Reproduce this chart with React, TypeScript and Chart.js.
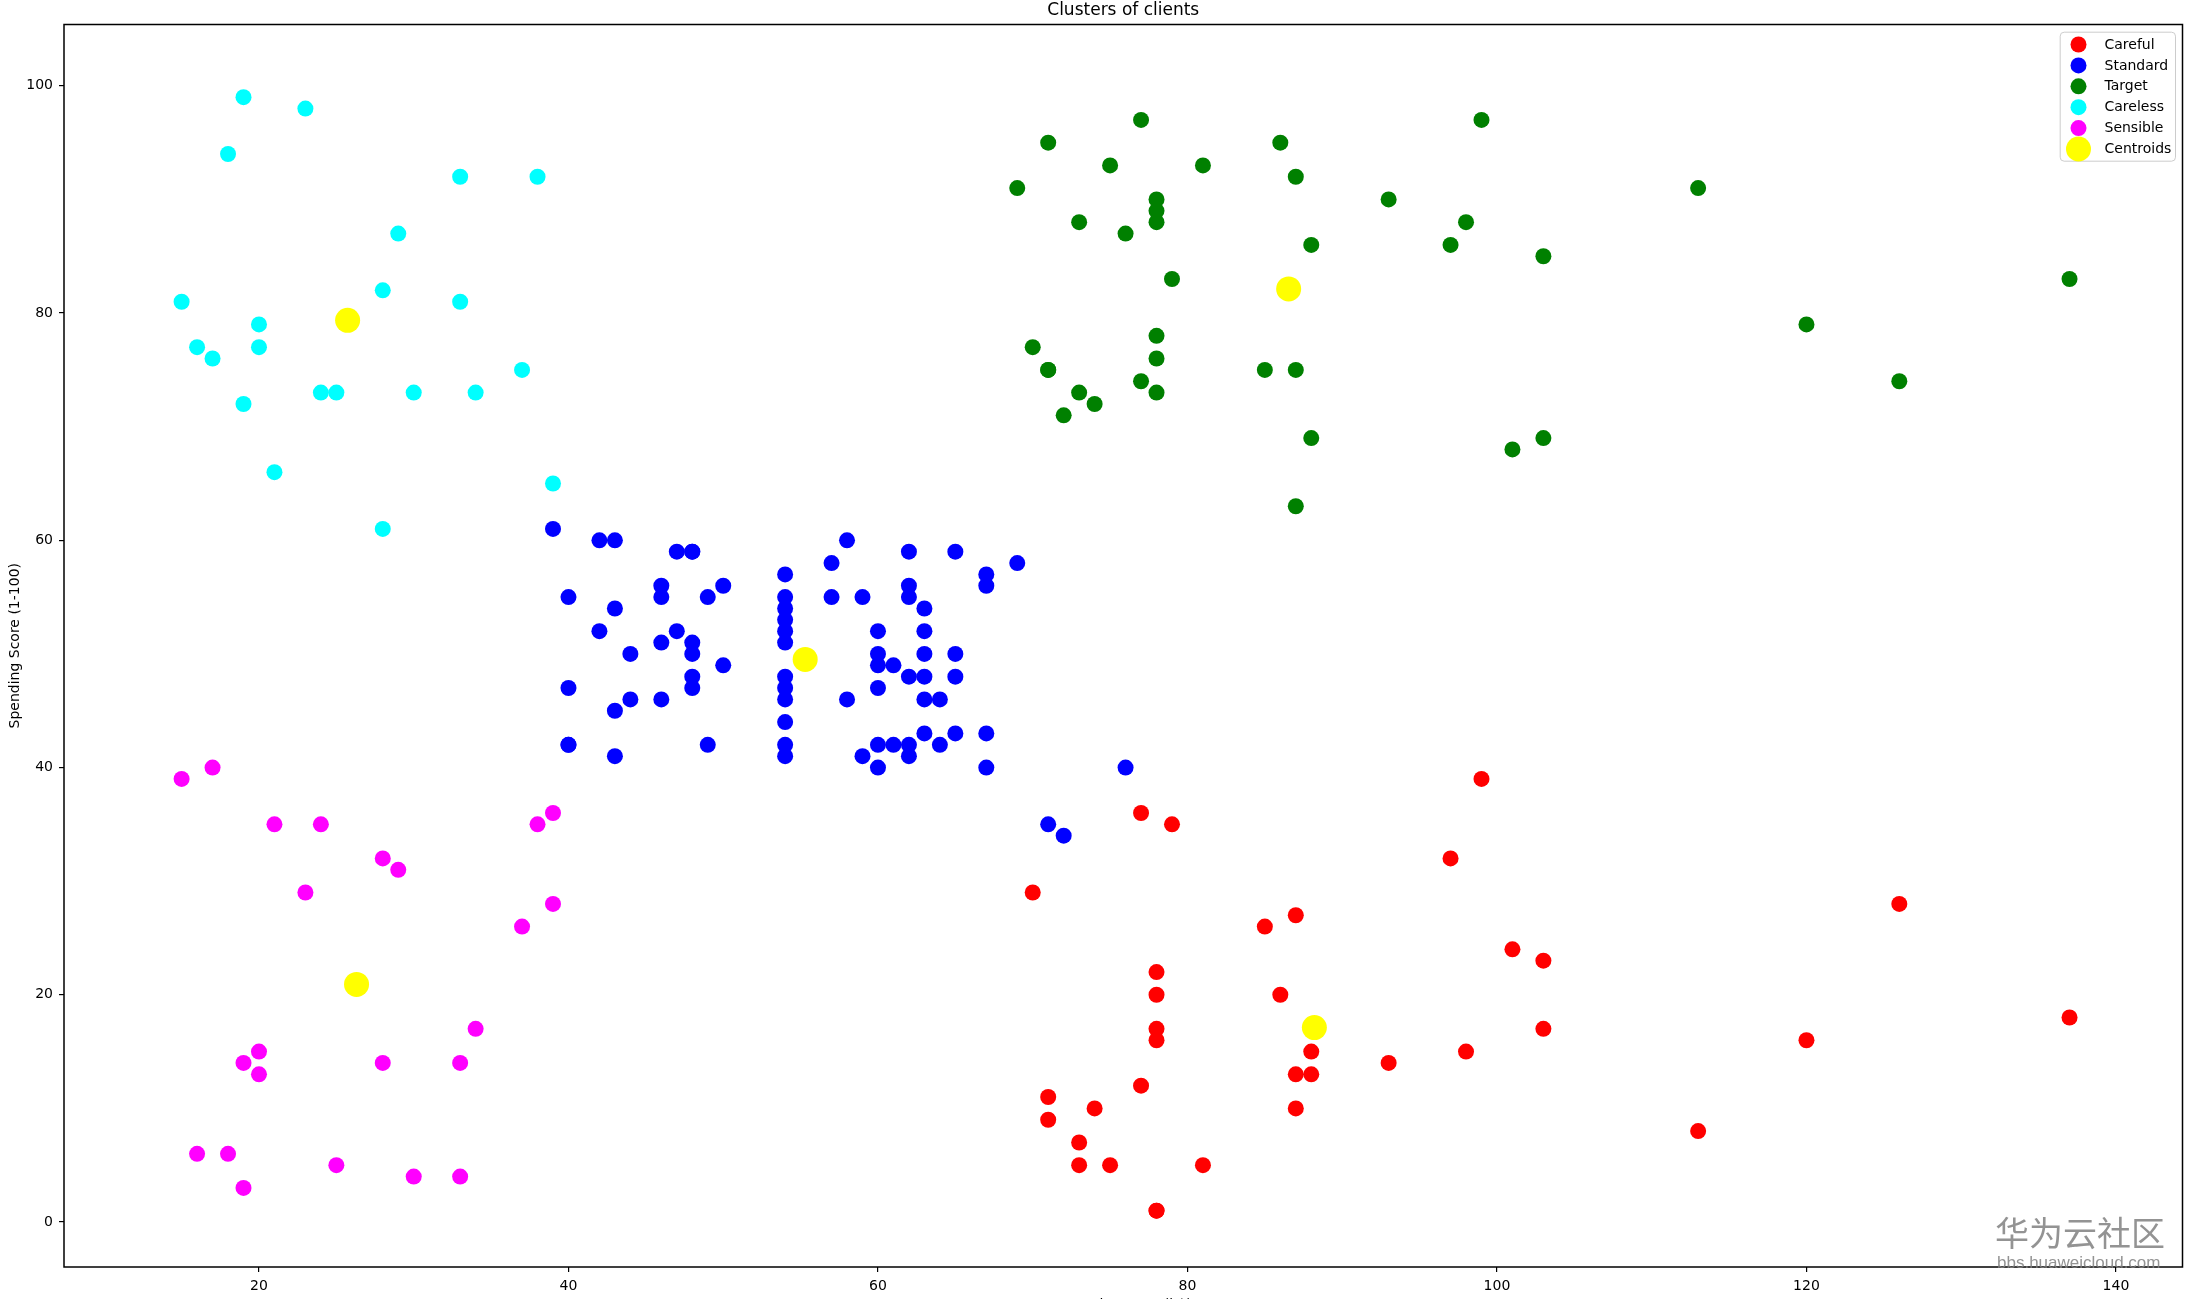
import React, { useEffect, useRef } from 'react';
import { Chart, registerables } from 'chart.js';

Chart.register(...registerables);

const FONT = "'DejaVu Sans', sans-serif";

// ---- Data (Annual Income k$, Spending Score 1-100) ----
const carefulIncome = [70, 71, 71, 73, 73, 74, 75, 77, 77, 78, 78, 78, 78, 78, 78, 79, 81, 85, 86, 87, 87, 87, 88, 88, 93, 97, 98, 99, 101, 103, 103, 113, 120, 126, 137];
const carefulScore = [29, 11, 9, 5, 7, 10, 5, 12, 36, 22, 17, 20, 16, 1, 1, 35, 5, 26, 20, 27, 13, 10, 13, 15, 14, 32, 15, 39, 24, 17, 23, 8, 16, 28, 18];

const standardIncome = [39, 40, 40, 40, 40, 42, 42, 43, 43, 43, 43, 44, 44, 46, 46, 46, 46, 47, 47, 48, 48, 48, 48, 48, 48, 49, 49, 50, 50, 54, 54, 54, 54, 54, 54, 54, 54, 54, 54, 54, 54, 57, 57, 58, 58, 59, 59, 60, 60, 60, 60, 60, 60, 61, 61, 62, 62, 62, 62, 62, 62, 63, 63, 63, 63, 63, 63, 64, 64, 65, 65, 65, 65, 67, 67, 67, 67, 69, 71, 72, 76];
const standardScore = [61, 55, 47, 42, 42, 52, 60, 54, 60, 45, 41, 50, 46, 51, 46, 56, 55, 52, 59, 51, 59, 50, 48, 59, 47, 55, 42, 49, 56, 47, 54, 53, 48, 52, 42, 51, 55, 41, 44, 57, 46, 58, 55, 60, 46, 55, 41, 49, 40, 42, 52, 47, 50, 42, 49, 41, 48, 59, 55, 56, 42, 50, 46, 43, 48, 52, 54, 42, 46, 48, 50, 43, 59, 43, 57, 56, 40, 58, 35, 34, 40];

const targetIncome = [69, 70, 71, 71, 71, 72, 73, 73, 74, 75, 76, 77, 77, 78, 78, 78, 78, 78, 78, 79, 81, 85, 86, 87, 87, 87, 88, 88, 93, 97, 98, 99, 101, 103, 103, 113, 120, 126, 137];
const targetScore = [91, 77, 95, 75, 75, 71, 88, 73, 72, 93, 87, 97, 74, 90, 88, 76, 89, 78, 73, 83, 93, 75, 95, 63, 75, 92, 86, 69, 90, 86, 88, 97, 68, 85, 69, 91, 79, 74, 83];

const carelessIncome = [15, 16, 17, 18, 19, 19, 20, 20, 21, 23, 24, 25, 28, 28, 29, 30, 33, 33, 34, 37, 38, 39];
const carelessScore = [81, 77, 76, 94, 72, 99, 77, 79, 66, 98, 73, 73, 82, 61, 87, 73, 92, 81, 73, 75, 92, 65];

const sensibleIncome = [15, 16, 17, 18, 19, 19, 20, 20, 21, 23, 24, 25, 28, 28, 29, 30, 33, 33, 34, 37, 38, 39, 39];
const sensibleScore = [39, 6, 40, 6, 3, 14, 15, 13, 35, 29, 35, 5, 14, 32, 31, 4, 4, 14, 17, 26, 35, 36, 28];

const centroidIncome = [88.2, 55.2963, 86.5385, 25.7273, 26.3043];
const centroidScore = [17.1143, 49.5185, 82.1282, 79.3636, 20.913];

const seriesLabels = ['Careful', 'Standard', 'Target', 'Careless', 'Sensible', 'Centroids'];
const seriesColors = ['#ff0000', '#0000ff', '#008000', '#00ffff', '#ff00ff', '#ffff00'];

const xTickValues = [20, 40, 60, 80, 100, 120, 140];
const yTickValues = [0, 20, 40, 60, 80, 100];

const chartTitle = 'Clusters of clients';
const xAxisTitle = 'Annual Income (k$)';
const yAxisTitle = 'Spending Score (1-100)';
const watermarkMain = '华为云社区';
const watermarkSub = 'bbs.huaweicloud.com';

const toPoints = (xs: number[], ys: number[]) => xs.map((x, i) => ({ x, y: ys[i] }));

const framePlugin = {
  id: 'mplFrame',
  afterDraw(chart: any) {
    const { ctx, chartArea: ca } = chart;
    ctx.save();
    ctx.strokeStyle = '#000';
    ctx.lineWidth = 1.5;
    ctx.strokeRect(ca.left, ca.top, ca.right - ca.left, ca.bottom - ca.top);
    ctx.restore();
  },
};

const legendPlugin = {
  id: 'mplLegend',
  afterDraw(chart: any) {
    const { ctx, chartArea: ca } = chart;
    const right = ca.right - 7;
    const top = ca.top + 7.7;
    const w = 115.3;
    const h = 129;
    const left = right - w;
    const r = 4;
    ctx.save();
    ctx.beginPath();
    ctx.moveTo(left + r, top);
    ctx.lineTo(right - r, top);
    ctx.arcTo(right, top, right, top + r, r);
    ctx.lineTo(right, top + h - r);
    ctx.arcTo(right, top + h, right - r, top + h, r);
    ctx.lineTo(left + r, top + h);
    ctx.arcTo(left, top + h, left, top + h - r, r);
    ctx.lineTo(left, top + r);
    ctx.arcTo(left, top, left + r, top, r);
    ctx.closePath();
    ctx.fillStyle = 'rgba(255,255,255,0.8)';
    ctx.fill();
    ctx.strokeStyle = '#cccccc';
    ctx.lineWidth = 1;
    ctx.stroke();
    const datasets = chart.data.datasets;
    ctx.font = `14px ${FONT}`;
    ctx.textBaseline = 'middle';
    ctx.textAlign = 'left';
    datasets.forEach((ds: any, i: number) => {
      const cy = top + 12.3 + i * 20.9;
      const cx = left + 18.3;
      ctx.beginPath();
      ctx.arc(cx, cy, ds.pointRadius, 0, Math.PI * 2);
      ctx.fillStyle = ds.backgroundColor;
      ctx.fill();
      ctx.fillStyle = '#000';
      ctx.fillText(ds.label, left + 44.3, cy + 0.5);
    });
    ctx.restore();
  },
};

const watermarkPlugin = {
  id: 'watermark',
  afterDraw(chart: any) {
    const { ctx } = chart;
    ctx.save();
    ctx.fillStyle = 'rgba(128,128,128,0.85)';
    ctx.textAlign = 'left';
    ctx.textBaseline = 'alphabetic';
    ctx.font = "34px 'Noto Sans CJK SC', sans-serif";
    ctx.fillText(watermarkMain, 1995, 1246);
    ctx.font = "17px 'Liberation Sans', sans-serif";
    ctx.fillText(watermarkSub, 1997, 1268);
    ctx.restore();
  },
};

export default function App() {
  const canvasRef = useRef<HTMLCanvasElement | null>(null);

  useEffect(() => {
    if (!canvasRef.current) return;
    const xs = [carefulIncome, standardIncome, targetIncome, carelessIncome, sensibleIncome, centroidIncome];
    const ys = [carefulScore, standardScore, targetScore, carelessScore, sensibleScore, centroidScore];
    const datasets = seriesLabels.map((label, i) => ({
      label,
      data: toPoints(xs[i], ys[i]),
      backgroundColor: seriesColors[i],
      borderColor: seriesColors[i],
      borderWidth: 0,
      pointRadius: i === 5 ? 12.5 : 8,
      pointHoverRadius: i === 5 ? 12.5 : 8,
      pointStyle: 'circle',
      order: 5 - i,
    }));

    const tickFont = { family: FONT, size: 14 };
    const chart = new Chart(canvasRef.current, {
      type: 'scatter',
      data: { datasets },
      plugins: [framePlugin, legendPlugin, watermarkPlugin],
      options: {
        responsive: false,
        animation: false,
        devicePixelRatio: 1,
        events: [],
        layout: { padding: { left: 0, right: 11, top: 0, bottom: 0 } },
        plugins: {
          legend: { display: false },
          tooltip: { enabled: false },
          title: {
            display: true,
            text: chartTitle,
            color: '#000',
            fullSize: false,
            font: { family: FONT, size: 17, weight: 'normal', lineHeight: 1.2 },
            padding: { top: 0.5, bottom: 3.6 },
          },
        },
        scales: {
          x: {
            type: 'linear',
            min: 7.4,
            max: 144.3,
            afterBuildTicks: (scale: any) => {
              scale.ticks = xTickValues.map((v) => ({ value: v }));
            },
            afterFit: (scale: any) => {
              scale.height = 32;
            },
            grid: { display: true, drawOnChartArea: false, drawTicks: true, tickLength: 5, color: '#000', lineWidth: 1.2 },
            border: { display: false },
            ticks: { font: tickFont, color: '#000', padding: 6, autoSkip: false, maxRotation: 0, includeBounds: false },
            title: {
              display: true,
              text: xAxisTitle,
              color: '#000',
              font: { family: FONT, size: 14, lineHeight: 1.2 },
              padding: { top: 0, bottom: -14.5 },
            },
          },
          y: {
            type: 'linear',
            min: -3.96,
            max: 105.4,
            afterBuildTicks: (scale: any) => {
              scale.ticks = yTickValues.map((v) => ({ value: v }));
            },
            afterFit: (scale: any) => {
              scale.width = 64;
            },
            grid: { display: true, drawOnChartArea: false, drawTicks: true, tickLength: 5, color: '#000', lineWidth: 1.2 },
            border: { display: false },
            ticks: { font: tickFont, color: '#000', padding: 6, autoSkip: false, includeBounds: false },
            title: {
              display: true,
              text: yAxisTitle,
              color: '#000',
              font: { family: FONT, size: 14, lineHeight: 1.2 },
              padding: { top: 6.6, bottom: 0 },
            },
          },
        },
      } as any,
    });
    return () => chart.destroy();
  }, []);

  return (
    <div style={{ position: 'absolute', left: 0, top: 0, width: 2195, height: 1299, background: '#fff' }}>
      <canvas ref={canvasRef} width={2195} height={1299} style={{ display: 'block', width: 2195, height: 1299 }} />
    </div>
  );
}
